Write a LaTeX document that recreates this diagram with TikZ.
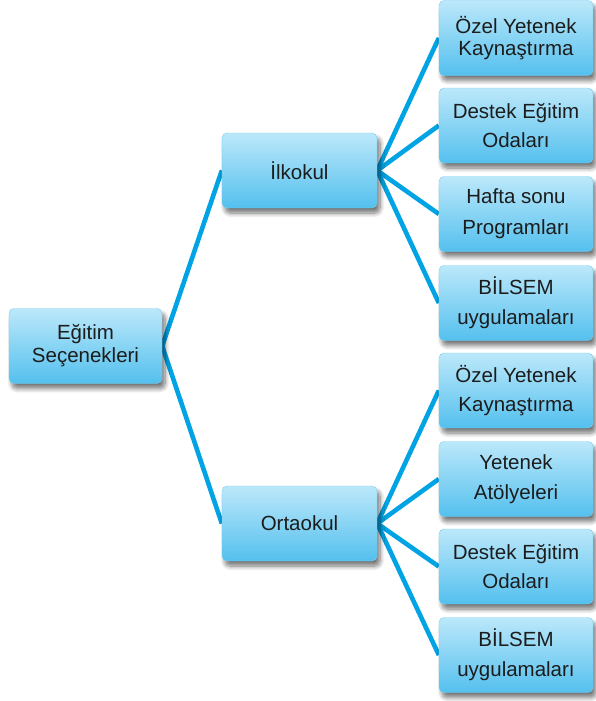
\documentclass[tikz,border=0pt]{standalone}
\usepackage{fontspec}
\setmainfont{Liberation Sans}
\usetikzlibrary{shadows.blur}
\definecolor{linec}{RGB}{0,163,228}
\definecolor{boxtop}{RGB}{188,232,250}
\definecolor{boxbot}{RGB}{84,192,238}
\definecolor{txt}{RGB}{28,28,28}
\pgfdeclarelayer{bg}
\pgfsetlayers{bg,main}
\tikzset{
  boxnode/.style={rectangle, rounded corners=5pt, minimum width=154pt, minimum height=75pt,
    inner sep=0pt, align=center, text=txt, top color=boxtop, bottom color=boxbot,
    draw=boxbot!80!white, line width=0.4pt,
    blur shadow={shadow xshift=3pt, shadow yshift=-5pt, shadow blur steps=8, shadow blur radius=4.5pt, shadow opacity=55},
    font=\fontsize{20.5}{23}\selectfont},
  lsp/.style={font=\fontsize{20.5}{#1}\selectfont},
  conn/.style={draw=linec, line width=4.6pt}
}
\begin{document}
\begin{tikzpicture}[x=1pt,y=-1pt]
\useasboundingbox (0,0) rectangle (595,701);
% nodes
\node[boxnode, minimum width=153pt] (root) at (85.5,346) {Eğitim\\Seçenekleri};
\node[boxnode, minimum width=155pt] (ilk) at (299.5,170.5) {İlkokul};
\node[boxnode, minimum width=155pt] (orta) at (299.5,523.5) {Ortaokul};
\node[boxnode, lsp=22] (l1) at (516,38) {Özel Yetenek\\Kaynaştırma};
\node[boxnode, lsp=29] (l2) at (516,125.5) {Destek Eğitim\\Odaları};
\node[boxnode, lsp=31] (l3) at (516,214) {Hafta sonu\\Programları};
\node[boxnode, lsp=30] (l4) at (516,303) {BİLSEM\\uygulamaları};
\node[boxnode, lsp=29] (l5) at (516,390.5) {Özel Yetenek\\Kaynaştırma};
\node[boxnode, lsp=30] (l6) at (516,479) {Yetenek\\Atölyeleri};
\node[boxnode, lsp=29] (l7) at (516,566.5) {Destek Eğitim\\Odaları};
\node[boxnode, lsp=30] (l8) at (516,655) {BİLSEM\\uygulamaları};
% connectors behind the boxes
\begin{pgfonlayer}{bg}
\draw[conn] (root.east) -- (ilk.west);
\draw[conn] (root.east) -- (orta.west);
\foreach \l in {l1,l2,l3,l4} \draw[conn] (ilk.east) -- (\l.west);
\foreach \l in {l5,l6,l7,l8} \draw[conn] (orta.east) -- (\l.west);
\end{pgfonlayer}
\end{tikzpicture}
\end{document}
